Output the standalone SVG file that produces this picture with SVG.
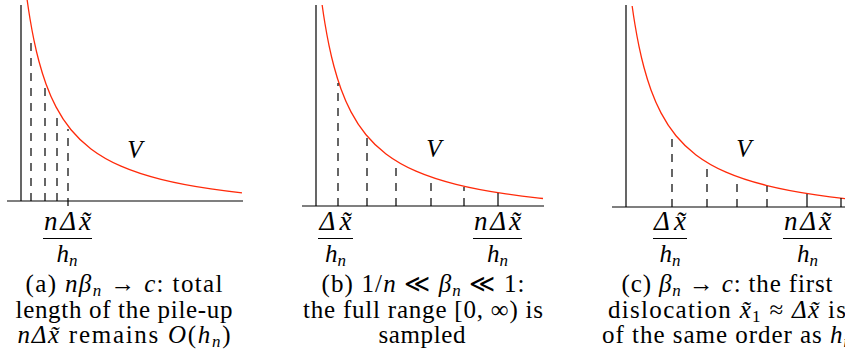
<svg xmlns="http://www.w3.org/2000/svg" width="845" height="353" viewBox="0 0 845 353">
<style>
.ax{stroke:#000;stroke-width:1.2;fill:none}
.cv{stroke:#ff2a0a;stroke-width:1.3;fill:none}
.ds{stroke:#000;stroke-width:1.2;stroke-dasharray:8 7}
.tk{stroke:#000;stroke-width:1.2}
.bar{stroke:#000;stroke-width:1}
text{font-family:'Liberation Serif','Times New Roman',serif;font-size:25px;fill:#000}
.i{font-style:italic}
.s{font-size:17px}
.m{font-size:27px}
.c{text-anchor:middle}
</style>
<defs>
<path id="curve" d="M6.15,-201.03 C7.10,-194.19 8.05,-187.97 9,-182.25 C10.33,-174.22 11.67,-167.14 13,-160.73 C14.67,-152.72 16.33,-145.76 18,-139.52 C20.33,-130.79 22.67,-123.47 25,-117.04 C28.33,-107.85 31.67,-100.47 35,-94.11 C40,-84.57 45,-77.34 50,-71.26 C56.67,-63.15 63.33,-57.12 70,-52.08 C80,-44.52 90,-39.22 100,-34.87 C113.33,-29.07 126.67,-25.02 140,-21.70 C156.67,-17.54 173.33,-14.58 190,-12.14 C200.33,-10.63 210.67,-9.33 221,-8.17"/>
<path id="tail" d="M221,-8.17 C223,-7.95 225,-7.72 227,-7.51"/>
</defs>

<g id="panel-a">
<line class="ax" x1="21" y1="5" x2="21" y2="201"/>
<line class="ax" x1="7" y1="201" x2="243" y2="201"/>
<use href="#curve" class="cv" transform="translate(21,201)"/>
<line class="ds" x1="31" y1="201" x2="31" y2="40"/>
<line class="ds" x1="45" y1="201" x2="45" y2="86"/>
<line class="ds" x1="57" y1="201" x2="57" y2="111"/>
<line class="ds" x1="68" y1="206" x2="68" y2="129"/>
<text class="i c" x="135" y="158">V</text>
<text class="c m" x="67.5" y="230" textLength="47" lengthAdjust="spacing"><tspan class="i">nΔx̃</tspan></text>
<line class="bar" x1="43" y1="238.5" x2="92" y2="238.5"/>
<text class="c" x="67" y="262"><tspan class="i">h</tspan><tspan class="i s" dy="4">n</tspan></text>
<text class="c" x="124" y="292" textLength="197" lengthAdjust="spacing">(a) <tspan class="i">nβ</tspan><tspan class="i s" dy="4">n</tspan><tspan dy="-4"> → </tspan><tspan class="i">c</tspan>: total</text>
<text class="c" x="124" y="318" textLength="217" lengthAdjust="spacing">length of the pile-up</text>
<text class="c" x="124" y="343" textLength="213" lengthAdjust="spacing"><tspan class="i">nΔx̃</tspan> remains <tspan class="i">O</tspan>(<tspan class="i">h</tspan><tspan class="i s" dy="4">n</tspan><tspan dy="-4">)</tspan></text>
</g>

<g id="panel-b">
<line class="ax" x1="316" y1="5" x2="316" y2="206"/>
<line class="ax" x1="302" y1="206" x2="544" y2="206"/>
<use href="#curve" class="cv" transform="translate(316,206)"/>
<use href="#tail" class="cv" transform="translate(316,206)"/>
<line class="ds" x1="338" y1="206" x2="338" y2="83"/>
<line class="ds" x1="367" y1="206" x2="367" y2="136"/>
<line class="ds" x1="396" y1="206" x2="396" y2="163"/>
<line class="ds" x1="431" y1="206" x2="431" y2="178"/>
<line class="ds" x1="464" y1="206" x2="464" y2="187"/>
<line class="tk" x1="498" y1="206" x2="498" y2="193"/>
<text class="i c" x="434" y="157">V</text>
<text class="c m" x="335.5" y="230" textLength="32" lengthAdjust="spacing"><tspan class="i">Δx̃</tspan></text>
<line class="bar" x1="318" y1="238.5" x2="353" y2="238.5"/>
<text class="c" x="335.5" y="262"><tspan class="i">h</tspan><tspan class="i s" dy="4">n</tspan></text>
<text class="c m" x="497.5" y="230" textLength="47" lengthAdjust="spacing"><tspan class="i">nΔx̃</tspan></text>
<line class="bar" x1="473" y1="238.5" x2="522" y2="238.5"/>
<text class="c" x="497.5" y="262"><tspan class="i">h</tspan><tspan class="i s" dy="4">n</tspan></text>
<text class="c" x="423" y="292" textLength="203" lengthAdjust="spacing">(b) 1/<tspan class="i">n</tspan> ≪ <tspan class="i">β</tspan><tspan class="i s" dy="4">n</tspan><tspan dy="-4"> ≪ 1:</tspan></text>
<text class="c" x="423" y="318" textLength="240" lengthAdjust="spacing">the full range [0, ∞) is</text>
<text class="c" x="422" y="343" textLength="87" lengthAdjust="spacing">sampled</text>
</g>

<g id="panel-c">
<line class="ax" x1="626" y1="5" x2="626" y2="207"/>
<line class="ax" x1="612" y1="207" x2="845" y2="207"/>
<use href="#curve" class="cv" transform="translate(626,207)"/>
<line class="ds" x1="672" y1="207" x2="672" y2="132"/>
<line class="ds" x1="707" y1="207" x2="707" y2="165"/>
<line class="ds" x1="737" y1="207" x2="737" y2="180"/>
<line class="ds" x1="767" y1="207" x2="767" y2="186"/>
<line class="tk" x1="807" y1="207" x2="807" y2="194"/>
<line class="tk" x1="841" y1="207" x2="841" y2="198"/>
<text class="i c" x="744" y="157">V</text>
<text class="c m" x="670" y="230" textLength="32" lengthAdjust="spacing"><tspan class="i">Δx̃</tspan></text>
<line class="bar" x1="653" y1="238.5" x2="687" y2="238.5"/>
<text class="c" x="670" y="262"><tspan class="i">h</tspan><tspan class="i s" dy="4">n</tspan></text>
<text class="c m" x="807.5" y="230" textLength="47" lengthAdjust="spacing"><tspan class="i">nΔx̃</tspan></text>
<line class="bar" x1="783" y1="238.5" x2="832" y2="238.5"/>
<text class="c" x="807.5" y="262"><tspan class="i">h</tspan><tspan class="i s" dy="4">n</tspan></text>
<text class="c" x="727" y="292" textLength="211" lengthAdjust="spacing">(c) <tspan class="i">β</tspan><tspan class="i s" dy="4">n</tspan><tspan dy="-4"> → </tspan><tspan class="i">c</tspan>: the first</text>
<text class="c" x="727" y="318" textLength="238" lengthAdjust="spacing">dislocation <tspan class="i">x̃</tspan><tspan class="s" dy="4">1</tspan><tspan dy="-4"> ≈ </tspan><tspan class="i">Δx̃</tspan> is</text>
<text class="c" x="727" y="343" textLength="250" lengthAdjust="spacing">of the same order as <tspan class="i">h</tspan><tspan class="i s" dy="4">n</tspan></text>
</g>
</svg>
